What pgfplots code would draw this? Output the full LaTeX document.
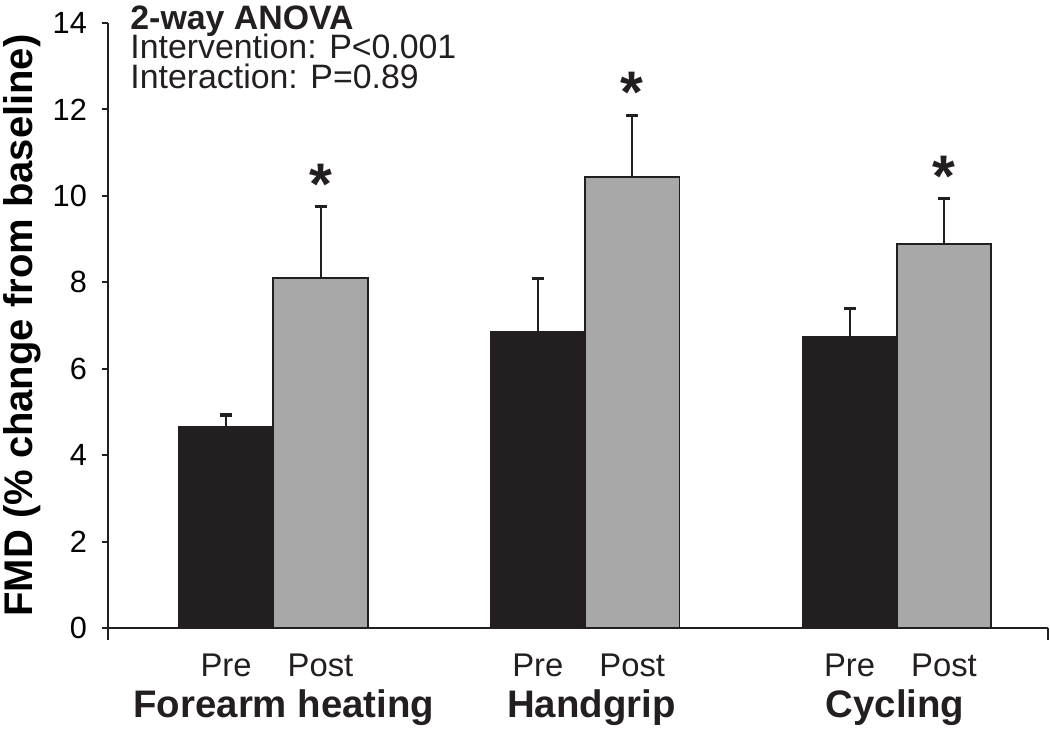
\documentclass[border=0pt]{standalone}
\usepackage{fontspec}
\setmainfont{Liberation Sans}
\usepackage{pgfplots}
\usepackage{pgfplotstable}
\pgfplotsset{compat=1.18}

\definecolor{barDark}{HTML}{231F20}
\definecolor{barGrey}{HTML}{A8A8A8}

% FMD per intervention, pre and post, with upper SEM
\pgfplotstableread{
grp pre  preerr post  posterr
1   4.65 0.28   8.10  1.65
2   6.86 1.22   10.44 1.41
3   6.74 0.66   8.89  1.05
}\fmd

\tikzset{
  catlab/.style={anchor=base, inner sep=0, font=\fontsize{12.3}{13}\selectfont, text=barDark},
  grplab/.style={anchor=base, inner sep=0, font=\fontsize{14.4}{15}\selectfont\bfseries, text=barDark},
  star/.style={anchor=base, inner sep=0, font=\fontsize{22}{22}\selectfont\bfseries, text=barDark},
  stat/.style={anchor=base west, inner sep=0, text height=0.72em, text depth=0.1em,
               font=\fontsize{12.7}{14}\selectfont, text=barDark},
}

\begin{document}
\begin{tikzpicture}
\begin{axis}[
    scale only axis,
    width=352.5pt, height=227pt,
    xmin=0.4706, xmax=3.485,
    ymin=0, ymax=14,
    axis lines*=left,
    axis line style={line width=0.75pt, color=barDark},
    xtick=\empty,
    ytick={0,2,...,14},
    tick align=outside,
    major tick length=2.5pt,
    tick style={line width=0.75pt, color=barDark},
    yticklabel style={font=\fontsize{11.5}{12}\selectfont, xshift=-2pt},
    /pgf/number format/assume math mode=true,
    ylabel={FMD (\% change from baseline)},
    ylabel style={font=\fontsize{15}{16}\selectfont\bfseries, inner sep=0,
                  at={(axis description cs:-0.091,0.5)}, anchor=center},
    clip=false,
    ybar, bar width=0.303,
  ]

  \addplot[fill=barDark, draw=barDark, line width=0.6pt, bar shift=-0.1515,
    error bars/.cd, y dir=plus, y explicit,
    error bar style={line width=0.75pt, color=barDark},
    error mark options={rotate=90, mark size=2.25pt, line width=1.2pt, color=barDark}]
    table[x=grp, y=pre, y error=preerr] {\fmd};

  \addplot[fill=barGrey, draw=barDark, line width=0.6pt, bar shift=0.1515,
    error bars/.cd, y dir=plus, y explicit,
    error bar style={line width=0.75pt, color=barDark},
    error mark options={rotate=90, mark size=2.25pt, line width=1.2pt, color=barDark}]
    table[x=grp, y=post, y error=posterr] {\fmd};

  % significance stars
  \node[star] at (axis cs:1.1515,9.80) {*};
  \node[star] at (axis cs:2.1515,11.92) {*};
  \node[star] at (axis cs:3.1515,9.99) {*};

  % statistics box
  \node[stat, font=\fontsize{12.7}{14}\selectfont\bfseries] at (axis cs:0.540,13.84) {2-way ANOVA};
  \node[stat] at (axis cs:0.540,13.17) {Intervention: P<0.001};
  \node[stat] at (axis cs:0.540,12.48) {Interaction: P=0.89};

  % category labels
  \node[catlab] at ([yshift=-18.3pt]axis cs:0.8485,0) {Pre};
  \node[catlab] at ([yshift=-18.3pt]axis cs:1.1515,0) {Post};
  \node[catlab] at ([yshift=-18.3pt]axis cs:1.8485,0) {Pre};
  \node[catlab] at ([yshift=-18.3pt]axis cs:2.1515,0) {Post};
  \node[catlab] at ([yshift=-18.3pt]axis cs:2.8485,0) {Pre};
  \node[catlab] at ([yshift=-18.3pt]axis cs:3.1515,0) {Post};
  \node[grplab] at ([yshift=-33.6pt]axis cs:1.034,0) {Forearm heating};
  \node[grplab] at ([yshift=-33.6pt]axis cs:2.02,0) {Handgrip};
  \node[grplab] at ([yshift=-33.6pt]axis cs:2.994,0) {Cycling};

  % end ticks of the x axis
  \draw[line width=0.75pt, barDark] (rel axis cs:0,0) -- ++(0pt,-4.5pt);
  \draw[line width=0.75pt, barDark] (rel axis cs:1,0) -- ++(0pt,-4.5pt);
\end{axis}
% page frame matched to the reference margins
\pgfresetboundingbox
\path ([shift={(-40.6pt,-39.3pt)}]current axis.south west)
  rectangle ([shift={(0.75pt,8.6pt)}]current axis.north east);
\end{tikzpicture}
\end{document}
